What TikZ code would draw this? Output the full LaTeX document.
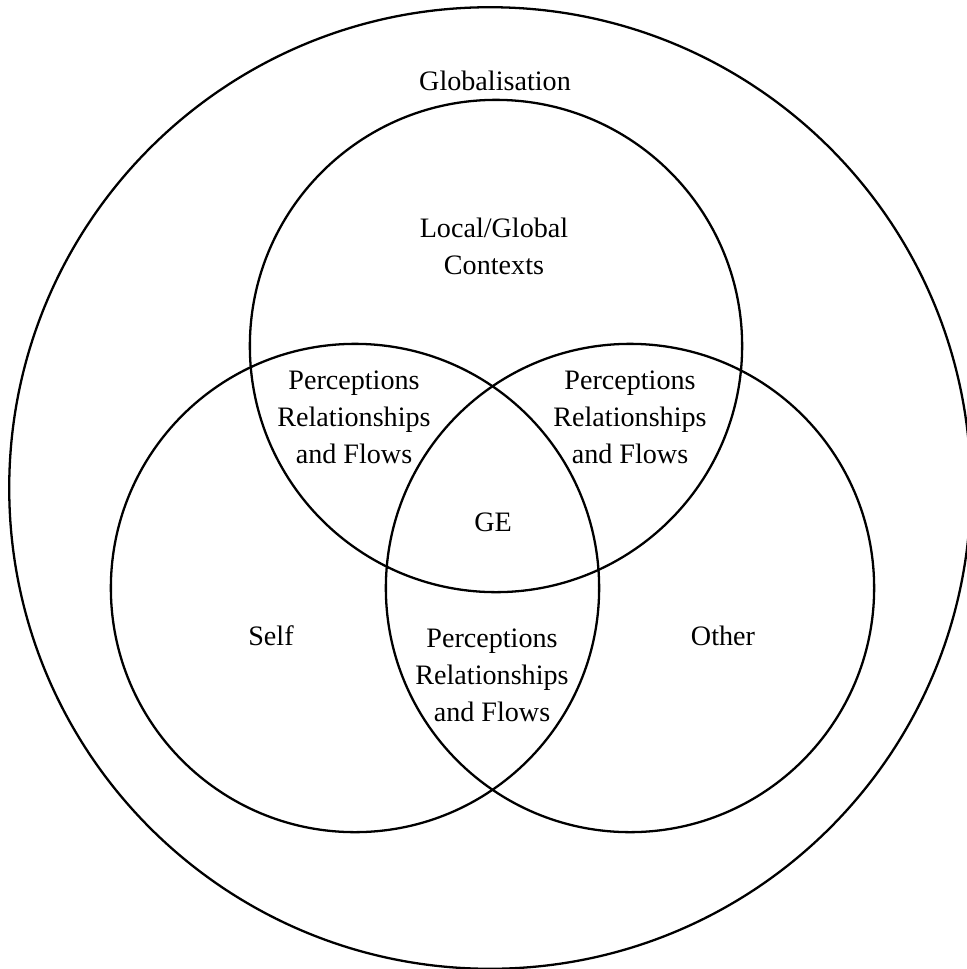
\documentclass[tikz,border=0pt]{standalone}
\usepackage{fontspec}
\setmainfont{Liberation Serif}
\usepackage{tikz}
\usetikzlibrary{shapes,calc}

\begin{document}
\begin{tikzpicture}[x=0.01cm,y=-0.01cm,line width=0.65pt,
  every node/.style={font=\fontsize{8}{10.5}\selectfont,align=center}]
\useasboundingbox (0,0) rectangle (967,969);
\node[draw,circle,inner sep=0pt,minimum size=9.61cm] (glob) at (490,488) {};
\node[draw,circle,inner sep=0pt,minimum size=4.92cm] (ctx) at (496,346) {};
\node[draw,circle,inner sep=0pt,minimum size=4.88cm] (self) at (355,588) {};
\node[draw,circle,inner sep=0pt,minimum size=4.88cm] (other) at (630,588) {};

\node (globl) at (495,81) {Globalisation};
\node (ctxl) at (494,246) {Local/Global\\Contexts};
\node (pl) at (354,417) {Perceptions\\Relationships\\and Flows};
\node (pr) at (630,417) {Perceptions\\Relationships\\and Flows};
\node (ge) at (493,522) {GE};
\node (selfl) at (271,636) {Self};
\node (otherl) at (723,636) {Other};
\node (pb) at (492,675) {Perceptions\\Relationships\\and Flows};
\end{tikzpicture}
\end{document}
